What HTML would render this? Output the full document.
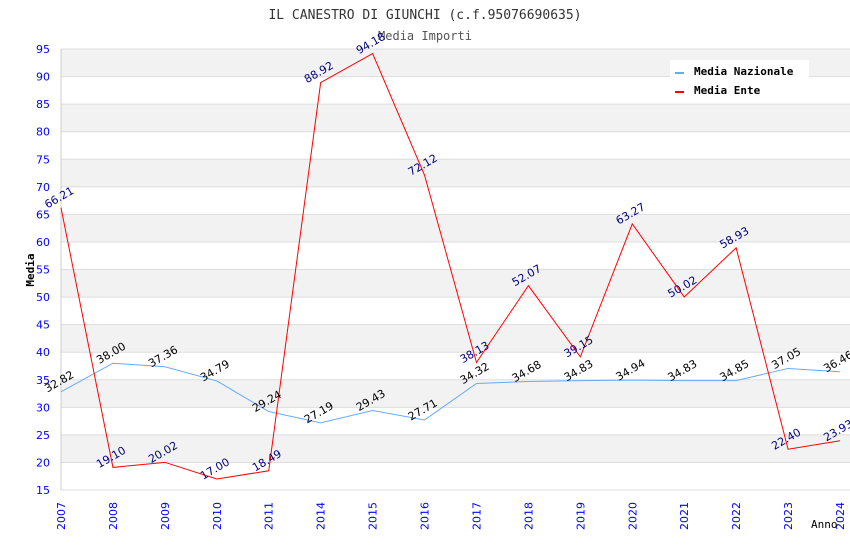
<!DOCTYPE html>
<html><head><meta charset="utf-8"><style>
body{margin:0;background:#fff}
svg{display:block}
</style></head><body>
<svg id="chart" width="850" height="550" xmlns="http://www.w3.org/2000/svg">
<text x="425" y="19" text-anchor="middle" font-family="DejaVu Sans Mono, Liberation Mono, monospace" font-size="13" fill="#333">IL CANESTRO DI GIUNCHI (c.f.95076690635)</text>
<text x="425" y="40" text-anchor="middle" font-family="DejaVu Sans Mono, Liberation Mono, monospace" font-size="12" fill="#555">Media Importi</text>
<g id="bands"></g>
<g id="axes"></g>
<g id="series"></g>
<g id="labels"></g>
<text transform="translate(34,270) rotate(-90)" text-anchor="middle" font-family="DejaVu Sans Mono, monospace" font-size="11" font-weight="bold" fill="#000">Media</text>
<text x="811" y="528" font-family="DejaVu Sans Mono, monospace" font-size="11" fill="#000">Anno</text>
<g>
<rect x="670" y="60" width="139" height="40" fill="#fff"/>
<rect x="675" y="72" width="9" height="2" fill="#66aaff"/>
<text x="694" y="75" font-family="DejaVu Sans Mono, monospace" font-size="11" font-weight="bold">Media Nazionale</text>
<rect x="675" y="91" width="9" height="2" fill="#ff0000"/>
<text x="694" y="94" font-family="DejaVu Sans Mono, monospace" font-size="11" font-weight="bold">Media Ente</text>
</g>
</svg>
<script>
const categories=["2007","2008","2009","2010","2011","2014","2015","2016","2017","2018","2019","2020","2021","2022","2023","2024"];
const nazionale=[32.82,38.00,37.36,34.79,29.24,27.19,29.43,27.71,34.32,34.68,34.83,34.94,34.83,34.85,37.05,36.46];
const ente=[66.21,19.10,20.02,17.00,18.49,88.92,94.18,72.12,38.13,52.07,39.15,63.27,50.02,58.93,22.40,23.93];
const yTicks=[15,20,25,30,35,40,45,50,55,60,65,70,75,80,85,90,95];
const NS="http://www.w3.org/2000/svg";
const L=61,R=840,T=49,B=490,yMin=15,yMax=95;
const xs=i=>L+i*(R-L)/(categories.length-1);
const ys=v=>B-(v-yMin)/(yMax-yMin)*(B-T);
function mk(tag,attrs,parent,txt){const e=document.createElementNS(NS,tag);for(const k in attrs)e.setAttribute(k,attrs[k]);if(txt!==undefined)e.textContent=txt;parent.appendChild(e);return e;}
const bands=document.getElementById('bands'),axes=document.getElementById('axes'),series=document.getElementById('series'),labels=document.getElementById('labels');
mk('rect',{x:L,y:T,width:R-L+10,height:B-T,fill:'#fff'},bands);
for(let k=0;k<yTicks.length-1;k++){
  const lo=yTicks[k],hi=yTicks[k+1];
  if(((yMax-hi)/5)%2===0){const r=mk('rect',{x:L,y:ys(hi),width:R-L+10,height:ys(lo)-ys(hi),fill:'#f2f2f2'},bands);
  
  }
}
yTicks.forEach(v=>{
  const g=mk('line',{x1:L,x2:R+10,y1:ys(v),y2:ys(v),stroke:'#ddd','stroke-width':1},axes);
  
  
  const t=mk('text',{x:50,y:ys(v)+4,'text-anchor':'end','font-family':'DejaVu Sans, sans-serif','font-size':11,fill:'#0000ff'},axes,String(v));
  
  
});
mk('line',{x1:L,x2:L,y1:T,y2:B,stroke:'#ccc'},axes);
categories.forEach((c,i)=>{
  const t=mk('text',{transform:`translate(${xs(i)+4},502) rotate(-90)`,'text-anchor':'end','font-family':'DejaVu Sans, sans-serif','font-size':11,fill:'#0000ff'},axes,c);
  
  
});
function drawSeries(arr,color,name,labelColor){
  const p=mk('polyline',{points:arr.map((v,i)=>xs(i)+','+ys(v)).join(' '),fill:'none',stroke:color,'stroke-width':1},series);
  
  
  arr.forEach((v,i)=>{
    const t=mk('text',{transform:`translate(${xs(i)},${ys(v)-7}) rotate(-30)`,'text-anchor':'middle','font-family':'DejaVu Sans, sans-serif','font-size':11,fill:labelColor},labels,v.toFixed(2));
    
    
  });
}
drawSeries(nazionale,'#66aaff','line-media-nazionale','#000');
drawSeries(ente,'#ff0000','line-media-ente','#000080');
</script>
</body></html>
